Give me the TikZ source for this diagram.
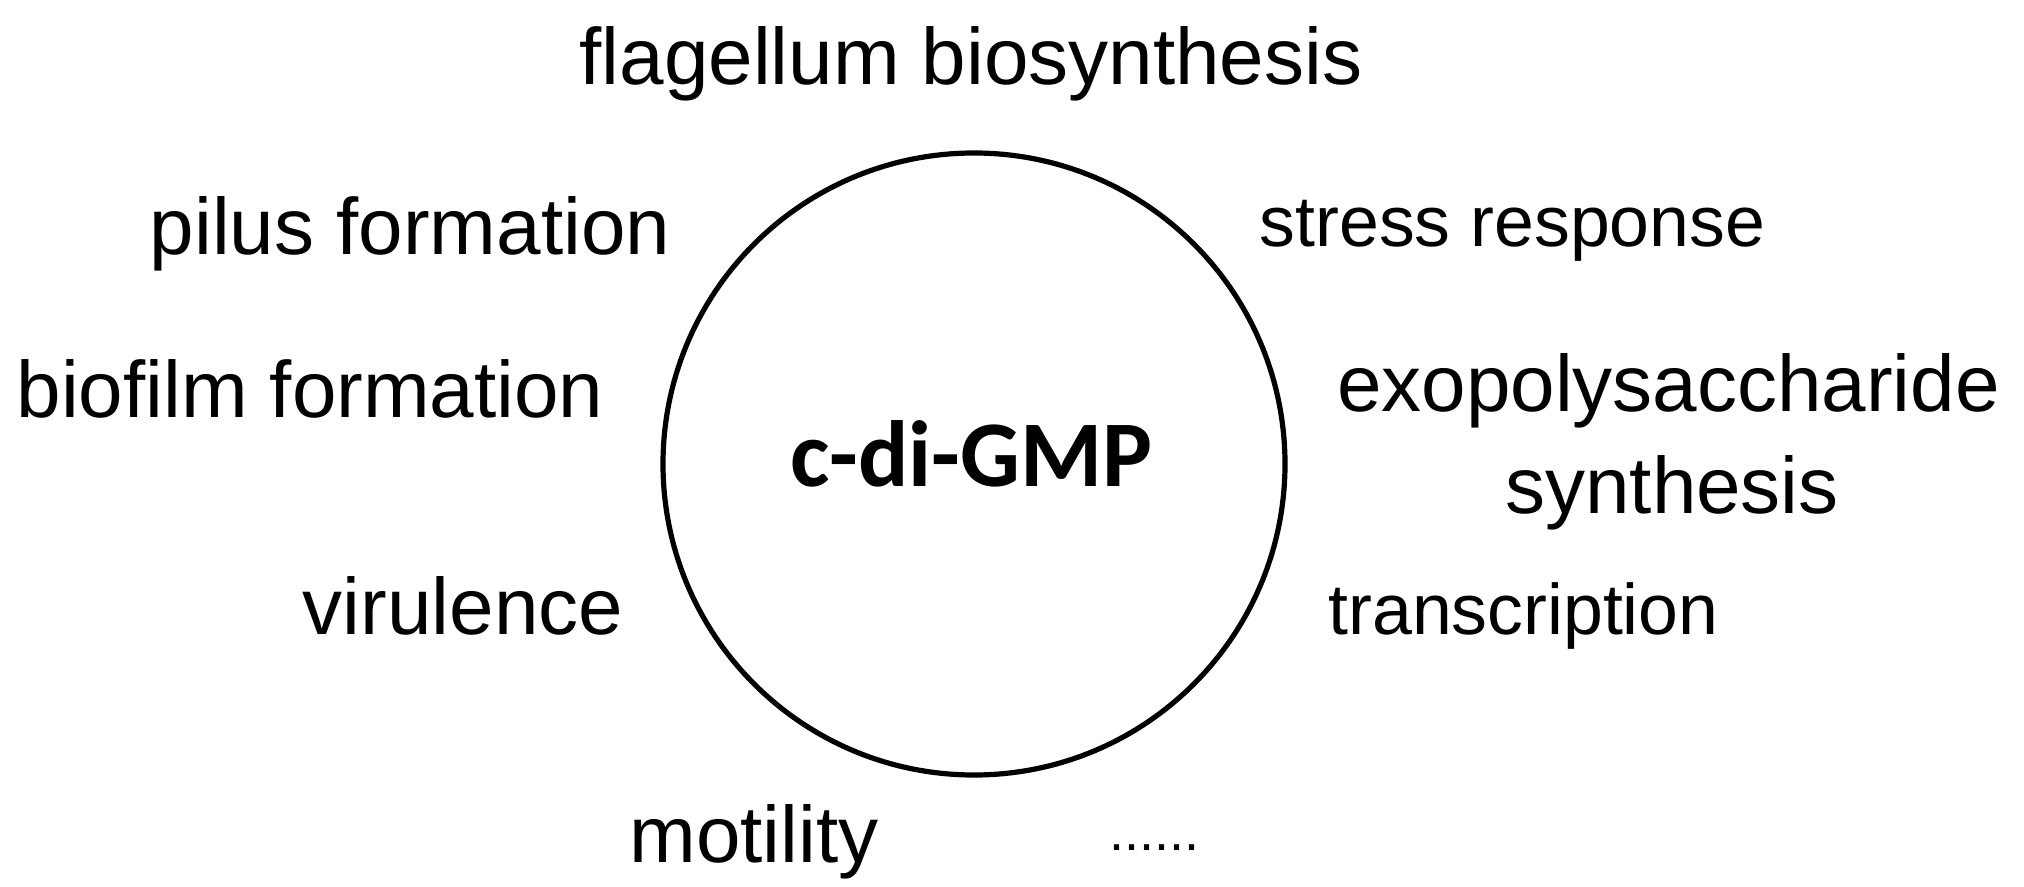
\documentclass[tikz,border=0pt]{standalone}
\usepackage{fontspec}
\setmainfont{Liberation Sans}
\newfontfamily\calibrifont{Carlito}
\tikzset{
  lbl/.style={inner sep=0pt, anchor=base, font=\fontsize{40}{48}\selectfont},
  smalllbl/.style={inner sep=0pt, anchor=base, font=\fontsize{35.8}{43}\selectfont},
  dotslbl/.style={inner sep=0pt, anchor=base, font=\fontsize{27}{32}\selectfont},
  title/.style={inner sep=0pt, anchor=base, font=\calibrifont\bfseries\fontsize{47}{56}\selectfont},
  ring/.style={circle, draw=black, line width=2.6pt, minimum size=311pt, inner sep=0pt}
}
\begin{document}
\begin{tikzpicture}[x=0.5pt,y=-0.5pt]
\useasboundingbox (0,0) rectangle (2024,887);
\node[ring] (core) at (974,464) {};
\node[title] (cdg) at (971.5,487) {c-di-GMP};
\node[lbl] (flag) at (971,85) {flagellum biosynthesis};
\node[lbl] (pilus) at (410,255) {pilus formation};
\node[lbl] (biofilm) at (310,418) {biofilm formation};
\node[smalllbl] (stress) at (1512.5,247) {stress response};
\node[lbl] (exo) at (1668.5,412) {exopolysaccharide};
\node[lbl] (synth) at (1672,514) {synthesis};
\node[smalllbl] (transc) at (1523.5,634) {transcription};
\node[lbl] (vir) at (463,634) {virulence};
\node[lbl] (mot) at (754,862) {motility};
\node[dotslbl] (more) at (1154,850) {......};
\end{tikzpicture}
\end{document}
